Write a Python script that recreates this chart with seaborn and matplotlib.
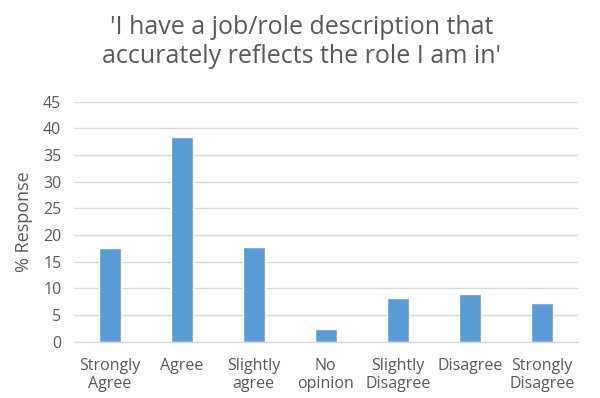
import matplotlib
matplotlib.use("Agg")
import matplotlib.pyplot as plt
import seaborn as sns
import pandas as pd

categories = ["Strongly\nAgree", "Agree", "Slightly\nagree", "No\nopinion",
              "Slightly\nDisagree", "Disagree", "Strongly\nDisagree"]
responses = [17.5, 38.4, 17.7, 2.3, 8.2, 8.9, 7.3]
y_ticks = [0, 5, 10, 15, 20, 25, 30, 35, 40, 45]

title = "'I have a job/role description that\naccurately reflects the role I am in'"

sns.set_theme(style="white")
plt.rcParams["font.family"] = ["Open Sans", "DejaVu Sans"]

df = pd.DataFrame({"category": categories, "response": responses})

fig = plt.figure(figsize=(6.0, 3.98), dpi=100)
ax = fig.add_axes([0.123, 0.1415, 0.840, 0.603])

sns.barplot(data=df, x="category", y="response", color="#5B9BD5",
            saturation=1, width=0.3, ax=ax, zorder=3)

ax.set_ylim(0, 45)
ax.set_yticks(y_ticks)
ax.set_xlim(-0.5, len(categories) - 0.5)
ax.grid(axis="y", color="#D9D9D9", linewidth=1, zorder=0)
ax.grid(axis="x", visible=False)
for side in ["top", "right", "left"]:
    ax.spines[side].set_visible(False)
ax.spines["bottom"].set_color("#D9D9D9")
ax.spines["bottom"].set_linewidth(1)
ax.tick_params(axis="both", length=0, colors="#595959", labelsize=11.5)
ax.tick_params(axis="x", pad=12)
ax.tick_params(axis="y", pad=9)
for lbl in ax.get_xticklabels():
    lbl.set_linespacing(1.15)
ax.set_xlabel("")
ax.set_ylabel("% Response", color="#595959", fontsize=13, labelpad=7)

fig.suptitle(title, x=0.503, y=0.963, fontsize=18, color="#595959",
             linespacing=1.2, va="top")

fig.savefig("out.png", dpi=100, facecolor="white")
